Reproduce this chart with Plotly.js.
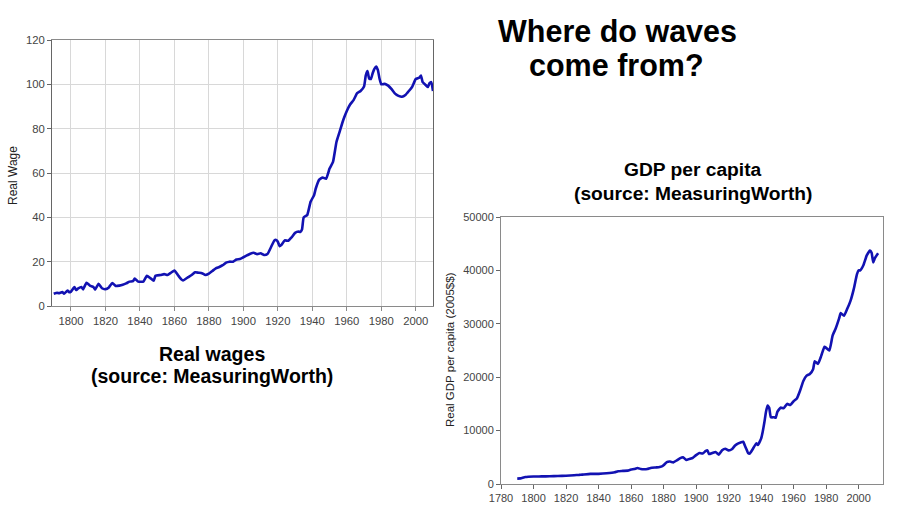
<!DOCTYPE html>
<html>
<head>
<meta charset="utf-8">
<script src="https://cdn.plot.ly/plotly-3.0.1.min.js"></script>
<style>
html,body{margin:0;padding:0;background:#fff;}
#chart{width:920px;height:516px;}
</style>
</head>
<body>
<div id="chart"></div>
<script>
// Real wages (MeasuringWorth)
var wageYears = [1790,1792,1793,1795,1796,1798,1799,1800,1802,1803,1804,1806,1807,1809,1811,1813,1814,1816,1818,1820,1822,1824,1826,1828,1830,1832,1834,1836,1837,1839,1842,1844,1846,1848,1849,1852,1854,1856,1858,1860,1862,1864,1865,1868,1870,1872,1874,1876,1878,1880,1882,1884,1886,1888,1890,1892,1894,1896,1898,1900,1902,1904,1906,1908,1910,1912,1914,1916,1918,1919,1920,1921,1922,1924,1926,1928,1930,1932,1933,1934,1935,1937,1939,1941,1942,1944,1946,1948,1950,1952,1954,1956,1958,1960,1962,1964,1966,1968,1970,1971,1972,1973,1974,1975,1976,1977,1978,1979,1980,1982,1984,1986,1988,1990,1992,1994,1996,1998,2000,2002,2003,2004,2006,2007,2008,2009,2010];
var wageValues = [5.5,6,5.8,6.3,5.6,7,6.2,6.5,8.5,7.2,7.8,8.6,7.5,10.5,9.2,8.6,7.4,10,8,7.6,8.4,10.4,9,9.2,9.6,10.2,11,11.2,12.4,11,11,13.6,12.6,11.4,13.6,14,14.4,14,15,16,14,12,11.5,13,14,15.2,15,14.8,14,14.6,15.8,17,17.6,18.4,19.6,20,20,21,21.2,22,22.8,23.6,24,23.4,23.8,23,23.5,26.5,29.6,29.8,29,27,27.5,29.6,29.4,31,33,33.6,33.4,34.5,40,41,47,50,53,57,58,57.4,62,65,74,79,84,88,91,93,96,97,99,104,106,102.6,102.4,105,107,108,106.5,102.5,100,100.2,99.4,97.8,95.8,94.8,94.4,95.2,97,99,102.4,103,104,101,99.5,98.8,100.5,101,97];

// Real GDP per capita (2005$)
var gdpYears = [1790,1792,1795,1800,1805,1810,1815,1820,1825,1828,1830,1835,1840,1845,1850,1852,1855,1858,1860,1862,1864,1866,1868,1870,1872,1875,1877,1879,1880,1882,1884,1886,1888,1890,1892,1894,1896,1898,1900,1902,1904,1906,1907,1908,1910,1912,1914,1916,1918,1920,1922,1924,1926,1929,1930,1931,1932,1933,1935,1937,1938,1940,1941,1942,1943,1944,1945,1946,1948,1949,1950,1952,1954,1956,1958,1960,1962,1964,1966,1968,1970,1972,1973,1975,1977,1979,1980,1982,1984,1986,1988,1989,1991,1993,1995,1997,1999,2000,2001,2003,2005,2007,2008,2009,2010,2012];
var gdpValues = [1000,1050,1300,1400,1420,1450,1500,1550,1650,1700,1750,1900,1900,2000,2200,2400,2450,2500,2700,2800,3000,2800,2750,2800,3000,3100,3150,3300,3500,4100,4200,4050,4400,4800,5000,4500,4700,4900,5400,5800,5700,6200,6300,5600,5800,6000,5500,6300,6600,6300,6500,7200,7600,7900,7200,6500,5800,5700,6600,7600,7300,8500,9800,11500,13500,14700,14300,12500,12500,12400,13500,14300,14200,15000,14800,15500,16000,17500,19300,20300,20600,21500,23000,22500,24000,25700,25500,25000,27800,29200,31000,32000,31500,32800,34300,36500,39300,40000,40000,41000,42800,43700,43300,41500,42300,43200];

var leftXTicks = [1800,1820,1840,1860,1880,1900,1920,1940,1960,1980,2000];
var rightXTicks = [1780,1800,1820,1840,1860,1880,1900,1920,1940,1960,1980,2000];

var lineColor = 'rgb(18,18,178)';
var W = 920, H = 516;
function px(x){return x/W;}
function py(y){return 1 - y/H;}

var traces = [
  {x: wageYears, y: wageValues, type:'scatter', mode:'lines', xaxis:'x', yaxis:'y',
   line:{color:lineColor, width:2.6, shape:'spline', smoothing:0.4}, hoverinfo:'skip'},
  {x: gdpYears, y: gdpValues, type:'scatter', mode:'lines', xaxis:'x2', yaxis:'y2',
   line:{color:lineColor, width:2.6, shape:'spline', smoothing:0.4}, hoverinfo:'skip'}
];

var ff = 'Liberation Sans, Arial, sans-serif';
var tickFontL = {family:ff, size:11.3, color:'#444'};
var tickFontR = {family:ff, size:11, color:'#444'};

var layout = {
  width:W, height:H,
  margin:{l:0,r:0,t:0,b:0},
  paper_bgcolor:'#fff', plot_bgcolor:'#fff',
  showlegend:false,
  xaxis:{domain:[px(52),px(433)], range:[1789,2010], tickvals:leftXTicks,
    showgrid:true, gridcolor:'#d8d8d8', gridwidth:1,
    showline:true, linecolor:'#8a8a8a', linewidth:1, mirror:true,
    ticks:'outside', ticklen:4, tickcolor:'#8a8a8a',
    tickfont:tickFontL, zeroline:false, anchor:'y', fixedrange:true},
  yaxis:{domain:[py(306),py(40)], range:[0,120], dtick:20,
    showgrid:true, gridcolor:'#d8d8d8', gridwidth:1,
    showline:true, linecolor:'#666', linewidth:1, mirror:true,
    ticks:'outside', ticklen:4, tickcolor:'#666',
    tickfont:tickFontL, zeroline:false, anchor:'x', fixedrange:true},
  xaxis2:{domain:[px(501),px(883)], range:[1780,2015], tickvals:rightXTicks,
    showgrid:false,
    showline:true, linecolor:'#8a8a8a', linewidth:1, mirror:true,
    ticks:'outside', ticklen:4, tickcolor:'#666',
    tickfont:tickFontR, zeroline:false, anchor:'y2', fixedrange:true},
  yaxis2:{domain:[py(484),py(217)], range:[0,50000], dtick:10000, tickformat:'d',
    showgrid:false,
    showline:true, linecolor:'#8a8a8a', linewidth:1, mirror:true,
    ticks:'outside', ticklen:4, tickcolor:'#666',
    tickfont:tickFontR, zeroline:false, anchor:'x2', fixedrange:true},
  annotations:[
    {text:'<b>Where do waves</b>', xref:'paper', yref:'paper', x:px(617), y:py(31), xanchor:'center', yanchor:'middle', showarrow:false,
     font:{family:ff, size:30.5, color:'#000'}},
    {text:'<b>come from?</b>', xref:'paper', yref:'paper', x:px(616), y:py(65), xanchor:'center', yanchor:'middle', showarrow:false,
     font:{family:ff, size:30.5, color:'#000'}},
    {text:'<b>Real wages</b>', xref:'paper', yref:'paper', x:px(212), y:py(354), xanchor:'center', yanchor:'middle', showarrow:false,
     font:{family:ff, size:19.5, color:'#000'}},
    {text:'<b>(source: MeasuringWorth)</b>', xref:'paper', yref:'paper', x:px(212), y:py(376), xanchor:'center', yanchor:'middle', showarrow:false,
     font:{family:ff, size:19.5, color:'#000'}},
    {text:'<b>GDP per capita</b>', xref:'paper', yref:'paper', x:px(693), y:py(170), xanchor:'center', yanchor:'middle', showarrow:false,
     font:{family:ff, size:19.2, color:'#000'}},
    {text:'<b>(source: MeasuringWorth)</b>', xref:'paper', yref:'paper', x:px(693), y:py(193), xanchor:'center', yanchor:'middle', showarrow:false,
     font:{family:ff, size:19.2, color:'#000'}},
    {text:'Real Wage', xref:'paper', yref:'paper', x:px(13), y:py(176), xanchor:'center', yanchor:'middle', showarrow:false, textangle:-90,
     font:{family:ff, size:12, color:'#222'}},
    {text:'Real GDP per capita (2005$$)', xref:'paper', yref:'paper', x:px(450), y:py(350), xanchor:'center', yanchor:'middle', showarrow:false, textangle:-90,
     font:{family:ff, size:11.5, color:'#222'}}
  ]
};

Plotly.newPlot('chart', traces, layout, {displayModeBar:false, staticPlot:true});
</script>
</body>
</html>
